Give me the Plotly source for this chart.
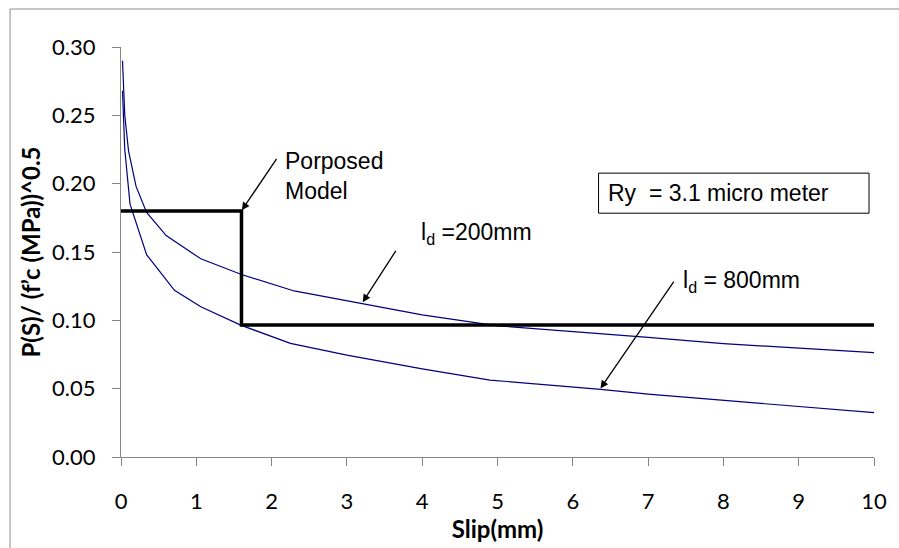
import plotly.graph_objects as go

# ---- data ----
slip_200 = [0.02, 0.05, 0.1, 0.2, 0.34, 0.6, 1.06, 1.6, 2.3, 3.2, 4.0, 5.0, 6.0, 7.0, 8.0, 9.0, 10.0]
ps_200 = [0.290, 0.250, 0.224, 0.198, 0.179, 0.162, 0.145, 0.1335, 0.1215, 0.112, 0.104, 0.096, 0.092, 0.0875, 0.083, 0.0795, 0.0763]

slip_800 = [0.02, 0.05, 0.12, 0.34, 0.71, 1.06, 1.59, 2.25, 3.0, 4.0, 4.9, 6.37, 7.0, 8.0, 9.0, 10.0]
ps_800 = [0.268, 0.225, 0.185, 0.148, 0.122, 0.110, 0.0965, 0.0831, 0.0745, 0.0645, 0.0563, 0.0495, 0.046, 0.0415, 0.0365, 0.0324]

model_slip = [0.0, 1.6, 1.6, 10.0]
model_ps = [0.18, 0.18, 0.0965, 0.0965]

x_ticks = [0, 1, 2, 3, 4, 5, 6, 7, 8, 9, 10]
y_ticks = [0.00, 0.05, 0.10, 0.15, 0.20, 0.25, 0.30]

W, H = 899, 548
L, R, T, B = 121, 881, 47, 457  # plot area in px

fig = go.Figure()
fig.add_trace(go.Scatter(x=slip_200, y=ps_200, mode="lines",
                         line=dict(color="#000080", width=1.2), name="ld=200mm"))
fig.add_trace(go.Scatter(x=slip_800, y=ps_800, mode="lines",
                         line=dict(color="#000080", width=1.2), name="ld=800mm"))
fig.add_trace(go.Scatter(x=model_slip, y=model_ps, mode="lines",
                         line=dict(color="#000000", width=3.5), name="Proposed Model"))

ann_font = dict(family="Liberation Sans, Arial", size=23, color="#000000")

def arrow(x_head, y_head, x_tail, y_tail):
    fig.add_annotation(x=x_head, y=y_head, ax=x_tail, ay=y_tail, xref="x", yref="y",
                       axref="x", ayref="y", text="", showarrow=True,
                       arrowhead=2, arrowsize=1.2, arrowwidth=1.3, arrowcolor="#000000")

arrow(1.605, 0.1806, 2.08, 0.2193)
arrow(3.21, 0.1133, 3.662, 0.1519)
arrow(6.368, 0.0502, 7.355, 0.1294)

fig.add_annotation(x=2.145, y=0.2053, xref="x", yref="y", xanchor="left", yanchor="middle",
                   text="Porposed<br>Model", showarrow=False, align="left", font=ann_font)
fig.add_annotation(x=3.957, y=0.1638, xref="x", yref="y", xanchor="left", yanchor="middle",
                   text="l<sub>d</sub> =200mm", showarrow=False, font=ann_font)
fig.add_annotation(x=7.434, y=0.1282, xref="x", yref="y", xanchor="left", yanchor="middle",
                   text="l<sub>d</sub> = 800mm", showarrow=False, font=ann_font)

# Ry box
fig.add_shape(type="rect", xref="x", yref="y", x0=6.342, x1=9.934, y0=0.1784, y1=0.2077,
              line=dict(color="#000000", width=1), fillcolor="rgba(0,0,0,0)")
fig.add_annotation(x=6.443, y=0.193, xref="x", yref="y", xanchor="left", yanchor="middle",
                   text="Ry \u00a0= 3.1 micro meter", showarrow=False, font=ann_font)

# outer chart border (only top and left edges fall inside the picture)
bx = (9 - L) / (R - L)
by = (B - 9) / (B - T)
fig.add_shape(type="line", xref="paper", yref="paper", x0=bx, x1=1.1, y0=by, y1=by,
              line=dict(color="#8c8c8c", width=1), layer="below")
fig.add_shape(type="line", xref="paper", yref="paper", x0=bx, x1=bx, y0=by, y1=-0.3,
              line=dict(color="#8c8c8c", width=1), layer="below")

tick_font = dict(family="Lato, Open Sans, sans-serif", size=22, color="#000000")
title_font = dict(family="Lato, Open Sans, sans-serif", size=24, color="#000000", weight="bold")

fig.update_layout(
    width=W, height=H,
    margin=dict(l=L, r=W - R, t=T, b=H - B),
    paper_bgcolor="white", plot_bgcolor="white",
    showlegend=False,
    xaxis=dict(range=[0, 10], tickvals=x_ticks, ticktext=[str(v) for v in x_ticks],
               showgrid=False, zeroline=False, showline=True, linecolor="#868686", linewidth=1,
               ticks="outside", ticklen=8, tickcolor="#868686", tickfont=tick_font,
               ticklabelstandoff=17,
               title=dict(text="Slip(mm)", font=title_font, standoff=0)),
    yaxis=dict(range=[0, 0.30], tickvals=y_ticks, ticktext=[f"{v:.2f}" for v in y_ticks],
               showgrid=False, zeroline=False, showline=True, linecolor="#868686", linewidth=1,
               ticks="outside", ticklen=8, tickcolor="#868686", tickfont=tick_font,
               ticklabelstandoff=12,
               title=dict(text="P(S)/ (f\u2019c (MPa))^0.5", font=title_font, standoff=4)),
)

fig.write_html("out.html", config={"displayModeBar": False},
               post_script="document.body.style.margin='0';document.body.style.overflow='hidden';")
